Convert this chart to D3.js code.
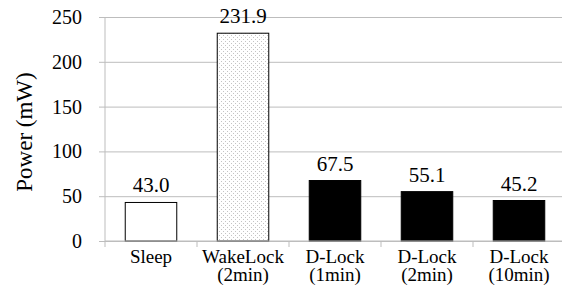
<!DOCTYPE html>
<html>
<head>
<meta charset="utf-8">
<script src="https://cdn.jsdelivr.net/npm/d3@7"></script>
<style>
  body { margin: 0; background: #fff; }
  svg, svg text { font-family: "Times New Roman", Tinos, "Liberation Serif", Times, serif; }
</style>
</head>
<body>
<svg id="canvas" width="562" height="287"></svg>
<script>
const categories = ["Sleep", "WakeLock\n(2min)", "D-Lock\n(1min)", "D-Lock\n(2min)", "D-Lock\n(10min)"];
const values = [43.0, 231.9, 67.5, 55.1, 45.2];
const fills = ["white", "dots", "black", "black", "black"];
const yTicks = [0, 50, 100, 150, 200, 250];

const margin = {left: 105, top: 17, right: -3, bottom: 46};
const width = 562 - margin.left - margin.right;
const height = 287 - margin.top - margin.bottom;
const grid = "#bdbdbd";

const svg = d3.select("svg#canvas");

const defs = svg.append("defs");
const pat = defs.append("pattern")
    .attr("id", "dots")
    .attr("patternUnits", "userSpaceOnUse")
    .attr("width", 4)
    .attr("height", 4);
pat.append("rect").attr("width", 4).attr("height", 4).attr("fill", "#fff");
pat.append("rect").attr("x", 0).attr("y", 0).attr("width", 1).attr("height", 1).attr("fill", "#c4c4c4");
pat.append("rect").attr("x", 2).attr("y", 2).attr("width", 1).attr("height", 1).attr("fill", "#c4c4c4");

const g = svg.append("g").attr("transform", `translate(${margin.left},${margin.top})`);

const x = d3.scaleBand().domain(categories).range([0, width]).paddingInner(0.44).paddingOuter(0.22);
const y = d3.scaleLinear().domain([0, 250]).range([height, 0]);

// gridlines + y axis
const yAxis = g.append("g")
    .call(d3.axisLeft(y).tickValues(yTicks).tickSize(-width - 6).tickFormat(d3.format("d")))
    .attr("font-family", null);
yAxis.select(".domain").remove();
yAxis.selectAll(".tick line").attr("x1", -6).attr("x2", width).attr("stroke", grid);
yAxis.selectAll(".tick text")
    .attr("x", -23)
    .attr("font-size", 20)
    .attr("fill", "#000");

g.append("line")
    .attr("x1", 0).attr("x2", 0)
    .attr("y1", 0).attr("y2", height)
    .attr("stroke", grid);

// bars
g.selectAll("rect.bar")
  .data(categories)
  .join("rect")
    .attr("class", "bar")
    .attr("x", d => x(d))
    .attr("y", (d, i) => y(values[i]))
    .attr("width", x.bandwidth())
    .attr("height", (d, i) => height - y(values[i]))
    .attr("fill", (d, i) => fills[i] === "dots" ? "url(#dots)" : fills[i])
    .attr("stroke", "#000")
    .attr("stroke-width", 1);

g.selectAll("text.val")
  .data(categories)
  .join("text")
    .attr("class", "val")
    .attr("x", d => x(d) + x.bandwidth() / 2)
    .attr("y", (d, i) => y(values[i]) - 10)
    .attr("text-anchor", "middle")
    .attr("font-size", 21)
    .text((d, i) => values[i].toFixed(1));

// x axis
const xAxis = g.append("g").attr("transform", `translate(0,${height})`);
xAxis.append("line").attr("x1", 0).attr("x2", width).attr("stroke", grid);
const step = x.step();
const bounds = d3.range(categories.length + 1).map(i => x(categories[0]) - x.paddingOuter() * step + i * step);
xAxis.selectAll("line.tk")
  .data(bounds)
  .join("line")
    .attr("class", "tk")
    .attr("x1", d => d).attr("x2", d => d)
    .attr("y1", 0).attr("y2", 6)
    .attr("stroke", grid);

xAxis.selectAll("text.cat")
  .data(categories.flatMap(c => c.split("\n").map((t, i) => ({c, t, i}))))
  .join("text")
    .attr("class", "cat")
    .attr("text-anchor", "middle")
    .attr("font-size", 19)
    .attr("x", d => x(d.c) + x.bandwidth() / 2)
    .attr("y", d => 22 + d.i * 18)
    .text(d => d.t);

// y title
svg.append("text")
    .attr("transform", `translate(32,132) rotate(-90)`)
    .attr("text-anchor", "middle")
    .attr("font-size", 23)
    .text("Power (mW)");
</script>
</body>
</html>
